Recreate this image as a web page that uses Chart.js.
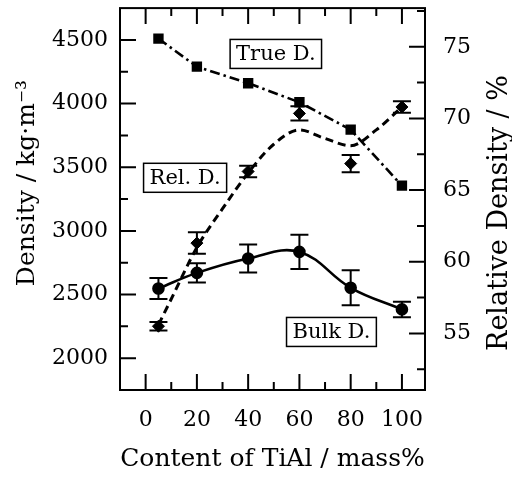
<!DOCTYPE html>
<html>
<head>
<meta charset="utf-8">
<script src="https://cdn.jsdelivr.net/npm/chart.js@4.4.0/dist/chart.umd.min.js"></script>
<style>
    html, body { margin: 0; padding: 0; background: #fff; }
    #wrap { width: 512px; height: 477px; }
</style>
</head>
<body>
<div id="wrap"><canvas id="densityChart"></canvas></div>
<script>
    // Datos
    const tialContent = [5, 20, 40, 60, 80, 100];
    const trueDensity = [4510, 4290, 4160, 4010, 3795, 3355];
    const bulkDensity = [2547, 2670, 2783, 2835, 2553, 2383];
    const bulkError = [83, 75, 110, 135, 137, 61];
    const relDensity = [55.5, 61.3, 66.3, 70.35, 66.85, 70.8];
    const relError = [0.3, 0.75, 0.4, 0.5, 0.6, 0.4];

    // curva ajustada (discontinua) de Rel. D.
    const relFitX = [5, 10, 20, 30, 40, 50, 60, 70, 80, 90, 100];
    const relFitY = [55.6, 57.4, 61.0, 63.7, 66.2, 68.2, 69.2, 68.6, 68.1, 69.2, 70.8];

    const xTickLabels = [0, 20, 40, 60, 80, 100];
    const densityTickLabels = [2000, 2500, 3000, 3500, 4000, 4500];
    const relTickLabels = [55, 60, 65, 70, 75];

    const FONT = "'DejaVu Serif', serif";

    const toPoints = (xs, ys) => xs.map((x, i) => ({ x: x, y: ys[i] }));

    // marco y marcas hacia dentro
    const frameTicks = {
        id: 'frameTicks',
        afterDatasetsDraw(chart) {
            const { ctx, chartArea: a, scales } = chart;
            ctx.save();
            ctx.strokeStyle = '#000';
            ctx.lineWidth = 2;

            const marks = (scale, majors, draw) => {
                const half = (majors[1] - majors[0]) / 2;
                for (let v = majors[0] - half; v <= majors[majors.length - 1] + half + 1e-9; v += half) {
                    if (v <= scale.min || v >= scale.max) continue;
                    const isMajor = majors.some(m => Math.abs(m - v) < 1e-6);
                    draw(scale.getPixelForValue(v), isMajor ? 16 : 8);
                }
            };

            ctx.beginPath();
            marks(scales.x, xTickLabels, (px, len) => {
                ctx.moveTo(px, a.bottom); ctx.lineTo(px, a.bottom - len);
                ctx.moveTo(px, a.top); ctx.lineTo(px, a.top + len);
            });
            marks(scales.y, densityTickLabels, (py, len) => {
                ctx.moveTo(a.left, py); ctx.lineTo(a.left + len, py);
            });
            marks(scales.y2, relTickLabels, (py, len) => {
                ctx.moveTo(a.right, py); ctx.lineTo(a.right - len, py);
            });
            ctx.stroke();

            ctx.strokeRect(a.left, a.top, a.right - a.left, a.bottom - a.top);
            ctx.restore();
        }
    };

    // barras de error
    const errorBars = {
        id: 'errorBars',
        afterDatasetsDraw(chart) {
            const ctx = chart.ctx;
            ctx.save();
            ctx.strokeStyle = '#000';
            ctx.lineWidth = 2;
            chart.data.datasets.forEach(ds => {
                if (!ds.errors) return;
                const xs = chart.scales.x;
                const ys = chart.scales[ds.yAxisID];
                ds.data.forEach((p, j) => {
                    const px = xs.getPixelForValue(p.x);
                    const top = ys.getPixelForValue(p.y + ds.errors[j]);
                    const bot = ys.getPixelForValue(p.y - ds.errors[j]);
                    ctx.beginPath();
                    ctx.moveTo(px, top); ctx.lineTo(px, bot);
                    ctx.moveTo(px - 9, top); ctx.lineTo(px + 9, top);
                    ctx.moveTo(px - 9, bot); ctx.lineTo(px + 9, bot);
                    ctx.stroke();
                });
            });
            ctx.restore();
        }
    };

    // etiquetas en recuadro y títulos verticales
    const labelsPlugin = {
        id: 'labelsPlugin',
        afterDraw(chart, args, opts) {
            const { ctx, scales } = chart;
            ctx.save();
            ctx.fillStyle = '#000';
            ctx.strokeStyle = '#000';
            ctx.font = '21px ' + FONT;
            ctx.textAlign = 'center';
            ctx.textBaseline = 'middle';
            ctx.lineWidth = 1.5;
            opts.boxes.forEach(b => {
                const cx = scales.x.getPixelForValue(b.x);
                const cy = scales.y.getPixelForValue(b.y);
                const w = ctx.measureText(b.text).width + 12;
                const h = 29;
                ctx.fillStyle = '#fff';
                ctx.fillRect(cx - w / 2, cy - h / 2, w, h);
                ctx.strokeRect(cx - w / 2, cy - h / 2, w, h);
                ctx.fillStyle = '#000';
                ctx.fillText(b.text, cx, cy + 1);
            });

            const vertical = (text, x, y, size) => {
                ctx.save();
                ctx.translate(x, y);
                ctx.rotate(-Math.PI / 2);
                ctx.font = size + 'px ' + FONT;
                ctx.fillText(text, 0, 0);
                ctx.restore();
            };
            vertical('Density / kg·m⁻³', 27, 183, 25);
            vertical('Relative Density / %', 500, 213, 27);
            ctx.restore();
        }
    };

    const tickFont = { family: FONT, size: 22 };
    const plain = v => String(v);

    // fija el tamaño de cada eje y quita el relleno automático
    const fixSize = (w, h) => s => {
        if (w) s.width = w;
        if (h) s.height = h;
        s.paddingTop = 0;
        s.paddingBottom = 0;
        s.paddingLeft = 0;
        s.paddingRight = 0;
    };

    new Chart(document.getElementById('densityChart'), {
        type: 'line',
        data: {
            datasets: [
                {
                    label: 'True D.',
                    data: toPoints(tialContent, trueDensity),
                    yAxisID: 'y',
                    borderColor: '#000',
                    backgroundColor: '#000',
                    borderWidth: 2.6,
                    borderDash: [10, 4, 2.5, 4],
                    tension: 0,
                    pointStyle: 'rect',
                    pointRadius: 5.5,
                    pointBackgroundColor: '#000'
                },
                {
                    label: 'Rel. D. fit',
                    data: toPoints(relFitX, relFitY),
                    yAxisID: 'y2',
                    borderColor: '#000',
                    borderWidth: 3,
                    borderDash: [8, 5],
                    cubicInterpolationMode: 'monotone',
                    pointRadius: 0
                },
                {
                    label: 'Rel. D.',
                    data: toPoints(tialContent, relDensity),
                    errors: relError,
                    yAxisID: 'y2',
                    showLine: false,
                    borderColor: '#000',
                    pointStyle: 'rectRot',
                    pointRadius: 6,
                    pointBackgroundColor: '#000'
                },
                {
                    label: 'Bulk D.',
                    data: toPoints(tialContent, bulkDensity),
                    errors: bulkError,
                    yAxisID: 'y',
                    borderColor: '#000',
                    borderWidth: 2.6,
                    tension: 0.4,
                    pointStyle: 'circle',
                    pointRadius: 5,
                    pointBackgroundColor: '#000'
                }
            ]
        },
        options: {
            responsive: true,
            maintainAspectRatio: false,
            animation: false,
            layout: { padding: { top: 8, left: 0, right: 0, bottom: 0 } },
            plugins: {
                legend: { display: false },
                tooltip: { enabled: false },
                labelsPlugin: {
                    boxes: [
                        { text: 'True D.', x: 50.8, y: 4390 },
                        { text: 'Rel. D.', x: 15.4, y: 3417 },
                        { text: 'Bulk D.', x: 72.5, y: 2206 }
                    ]
                }
            },
            scales: {
                x: {
                    type: 'linear',
                    min: -10,
                    max: 109,
                    afterBuildTicks: s => { s.ticks = xTickLabels.map(v => ({ value: v })); },
                    grid: { display: false, drawTicks: false },
                    border: { display: false },
                    ticks: { color: '#000', font: tickFont, padding: 17, maxRotation: 0, autoSkip: false, callback: plain },
                    title: {
                        display: true,
                        text: 'Content of TiAl / mass%',
                        color: '#000',
                        font: { family: FONT, size: 25 },
                        padding: { top: 0, bottom: 3 }
                    },
                    afterFit: fixSize(0, 87)
                },
                y: {
                    position: 'left',
                    min: 1750,
                    max: 4750,
                    afterBuildTicks: s => { s.ticks = densityTickLabels.map(v => ({ value: v })); },
                    grid: { display: false, drawTicks: false },
                    border: { display: false },
                    ticks: { color: '#000', font: tickFont, padding: 12, callback: plain },
                    afterFit: fixSize(120, 0)
                },
                y2: {
                    position: 'right',
                    min: 51.05,
                    max: 77.7,
                    afterBuildTicks: s => { s.ticks = relTickLabels.map(v => ({ value: v })); },
                    grid: { display: false, drawTicks: false },
                    border: { display: false },
                    ticks: { color: '#000', font: tickFont, padding: 18, callback: plain },
                    afterFit: fixSize(87, 0)
                }
            }
        },
        plugins: [errorBars, frameTicks, labelsPlugin]
    });
</script>
</body>
</html>
